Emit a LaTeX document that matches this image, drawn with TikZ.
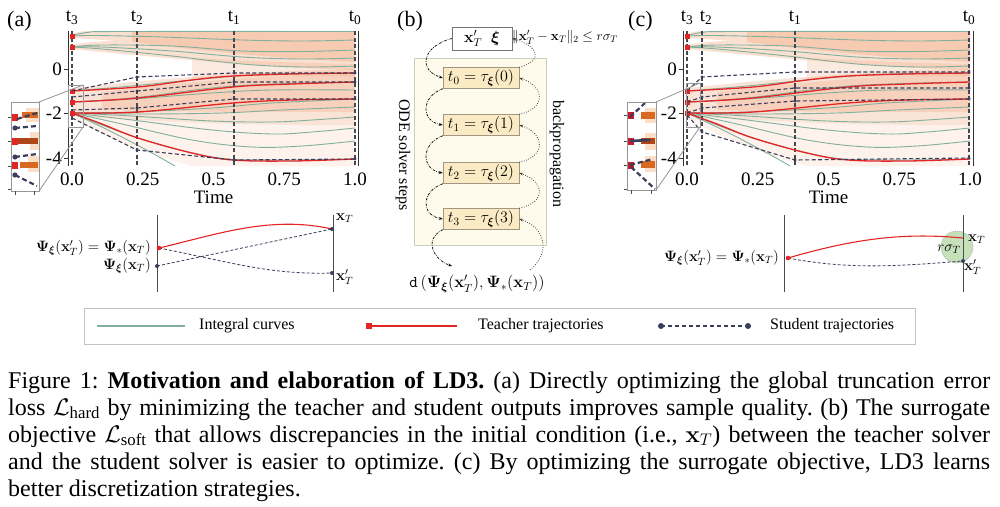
\RequirePackage{fix-cm}
\documentclass[tikz,border=0pt]{standalone}
\usepackage{amsmath}
\usepackage[no-math]{fontspec}
\setmainfont{Liberation Serif}
\newfontfamily\capfont{Liberation Serif}
\usetikzlibrary{arrows.meta,calc}
\frenchspacing

\definecolor{tgreen}{RGB}{128,176,156}
\definecolor{tred}{RGB}{226,38,38}
\definecolor{tnavy}{RGB}{58,62,92}
\definecolor{torange}{RGB}{240,160,115}
\definecolor{vline}{RGB}{70,70,80}
\definecolor{cream}{RGB}{255,251,236}
\definecolor{creamedge}{RGB}{210,204,190}
\definecolor{wheat}{RGB}{251,235,196}
\definecolor{wheatedge}{RGB}{160,150,130}
\definecolor{circgreen}{RGB}{198,224,186}
\definecolor{legedge}{RGB}{195,195,195}
\definecolor{insetedge}{RGB}{150,150,150}
\definecolor{dkorange}{RGB}{215,105,35}
\definecolor{brorange}{RGB}{175,70,25}
\definecolor{ltorange}{RGB}{248,200,160}
\definecolor{crimson}{RGB}{200,25,45}

\tikzset{
  integral/.style={tgreen, line width=0.9pt},
  teacher/.style={tred, line width=1.3pt},
  student/.style={tnavy, line width=1.1pt, dash pattern=on 4pt off 2.5pt},
  tline/.style={vline, line width=1.1pt, dash pattern=on 4pt off 2.5pt},
  spine/.style={black!80, line width=1pt},
  ticklab/.style={font=\fontsize{19}{20}\selectfont, inner sep=0pt},
  panlab/.style={font=\fontsize{22}{24}\selectfont, inner sep=0pt, anchor=west},
  mlab/.style={font=\fontsize{15}{17}\selectfont, inner sep=0pt},
  leglab/.style={font=\fontsize{16}{18}\selectfont, inner sep=0pt, anchor=west},
  capline/.style={anchor=base west, inner sep=0pt, font=\capfont\fontsize{24}{27}\selectfont},
  stepbox/.style={draw=wheatedge, fill=wheat, minimum width=76pt, minimum height=21pt, inner sep=0pt, font=\fontsize{16}{18}\selectfont},
  ddarrow/.style={black, line width=0.7pt, dash pattern=on 2.5pt off 1.2pt on 0.6pt off 1.2pt, -{Stealth[length=4pt,width=3pt]}},
  dotarrow/.style={black!75, line width=0.8pt, dash pattern=on 0.8pt off 1.6pt, -{Stealth[length=4pt,width=3pt]}},
  insetline/.style={insetedge, line width=0.8pt},
}

\newcommand\sharedback{%
  \fill[torange, fill opacity=0.32] (0,34) .. controls (8,31) .. (30,31) -- (283,31) -- (283,70) .. controls (200,68) and (90,58) .. (0,49) -- (0,45) .. controls (15,42) and (30,41) .. (45,41) .. controls (30,40) and (15,38.5) .. (0,38) -- cycle;
  \fill[torange, fill opacity=0.32] (60,31) -- (283,31) -- (283,62) .. controls (200,58) and (120,50) .. (60,42) -- cycle;
  \fill[torange, fill opacity=0.22] (120,58) .. controls (200,62) .. (283,64) -- (283,76) .. controls (200,76) .. (120,80) -- cycle;
  \fill[torange, fill opacity=0.28] (0,88) .. controls (60,82) and (150,72) .. (283,69) -- (283,125) .. controls (200,126) and (80,122) .. (0,116) -- cycle;
  \fill[torange, fill opacity=0.28] (30,92) .. controls (80,86) and (160,76) .. (283,74) -- (283,112) .. controls (200,112) and (100,112) .. (30,110) -- cycle;
  \fill[torange, fill opacity=0.13] (0,116) .. controls (80,122) and (200,126) .. (283,125) -- (283,166) -- (120,166) .. controls (60,150) and (20,130) .. (0,118) -- cycle;
  % integral curves
  \draw[integral] plot[smooth, tension=0.6] coordinates {(0,36) (15,32.5) (50,31.5) (283,31.5)};
  \draw[integral] plot[smooth, tension=0.6] coordinates {(0,36) (25,35.5) (90,37) (170,40) (230,41) (283,40)};
  \draw[integral] plot[smooth, tension=0.6] coordinates {(0,47) (30,45) (100,46) (170,51) (230,51.5) (283,50)};
  \draw[integral] plot[smooth, tension=0.6] coordinates {(0,47) (30,47) (100,51) (170,57) (230,59) (283,58)};
  \draw[integral] plot[smooth, tension=0.6] coordinates {(0,47) (30,49) (100,56) (170,64) (230,67) (283,66)};
  \draw[integral] plot[smooth, tension=0.6] coordinates {(0,91) (60,86) (140,78) (200,74) (283,73)};
  \draw[integral] plot[smooth, tension=0.6] coordinates {(0,102) (60,99) (140,93) (200,90) (283,90)};
  \draw[integral] plot[smooth, tension=0.6] coordinates {(0,102) (60,98) (140,88) (200,84) (283,82)};
  \draw[integral] plot[smooth, tension=0.6] coordinates {(0,113) (60,112) (140,108) (200,103) (283,99)};
  \draw[integral] plot[smooth, tension=0.6] coordinates {(0,113) (70,114) (150,113) (210,110) (283,107)};
  \draw[integral] plot[smooth, tension=0.6] coordinates {(0,113) (60,116) (140,121) (200,122) (240,120) (283,117)};
  \draw[integral] plot[smooth, tension=0.6] coordinates {(0,113) (60,120) (140,130) (200,134) (240,132) (283,128)};
  \draw[integral] plot[smooth, tension=0.6] coordinates {(0,113) (50,124) (120,140) (180,147) (230,146) (283,141)};
  \draw[integral] plot[smooth, tension=0.6] coordinates {(0,113) (40,132) (80,153) (103,166)};
  \draw[integral] plot[smooth, tension=0.6] coordinates {(0,113) (66,138) (140,157) (200,160) (283,159)};
}

\newcommand\sharedfront[1]{%
  \draw[teacher] plot[smooth, tension=0.6] coordinates {(0,91) (66,87) (120,80) (161,76) (220,74) (283,73)};
  \draw[teacher] plot[smooth, tension=0.6] coordinates {(0,102) (66,98) (161,87) (220,84) (283,82)};
  \draw[teacher] plot[smooth, tension=0.6] coordinates {(0,113) (66,112) (161,103) (220,100) (283,99)};
  \draw[teacher] plot[smooth, tension=0.6] coordinates {(0,113) (30,124) (66,138) (120,153) (161,160) (220,161) (283,159)};
  \foreach \yy in {36,47,91,102,113} {\fill[tred] (-2.5,\yy-2.5) rectangle (2.5,\yy+2.5);}
  \draw[spine] (-4,31) -- (-4,166);
  \draw[spine] (286,31) -- (286,166);
  \foreach \yy in {69,113,158} {\draw[spine] (-8,\yy) -- (-4,\yy);}
  \node[ticklab, anchor=east] (#1y0) at (-10,69) {0};
  \node[ticklab, anchor=east] (#1y2) at (-10,113) {-2};
  \node[ticklab, anchor=east] (#1y4) at (-10,158) {-4};
  \node[ticklab] (#1x0) at (0,179) {0.0};
  \node[ticklab] (#1x1) at (70.75,179) {0.25};
  \node[ticklab] (#1x2) at (141.5,179) {0.5};
  \node[ticklab] (#1x3) at (212.25,179) {0.75};
  \node[ticklab] (#1x4) at (283,179) {1.0};
  \node[ticklab] (#1time) at (141.5,197) {Time};
}

\begin{document}
\begin{tikzpicture}[x=1pt,y=-1pt]
\useasboundingbox (0,0) rectangle (1000,506);
\fill[white] (0,0) rectangle (1000,506);

% ================= panel (a) =================
\node[panlab] (laba) at (7,21) {(a)};
\begin{scope}[xshift=72pt]
  \sharedback
  \foreach \xx/\nm in {0/3,65/2,162/1,283/0} {
    \draw[tline] (\xx,31) -- (\xx,166);
    \node[ticklab] (at\nm) at (\xx,18) {t\textsubscript{\nm}};
  }
  \sharedfront{a}
  \draw[student] (0,91) -- (65,77) -- (162,73) -- (283,73);
  \draw[student] (0,97) -- (65,91) -- (162,82) -- (283,82);
  \draw[student] (0,110) -- (65,108) -- (162,99) -- (283,99);
  \draw[student] (0,118) -- (65,150) -- (162,160) -- (283,159);
  \foreach \p in {(65,77),(162,73),(283,73),(65,91),(162,82),(283,82),(65,108),(162,99),(283,99),(65,150),(162,160),(283,159)} {\fill[tnavy] \p circle (1.6);}
\end{scope}
% inset (a)
\draw[insetline] (68,85) rectangle (83,127);
\draw[insetline] (39,102) -- (83,85);
\draw[insetline] (39,191) -- (83,127);
\fill[white] (11,102) rectangle (39,191);
\fill[ltorange, opacity=0.6] (26,108) rectangle (39,122);
\fill[dkorange] (22,112) rectangle (38,118);
\fill[ltorange, opacity=0.6] (30,132) rectangle (39,150);
\fill[brorange] (18,138) rectangle (38,144);
\fill[ltorange, opacity=0.6] (28,156) rectangle (39,172);
\fill[dkorange] (20,162) rectangle (38,168);
\foreach \yy in {117,141,165} {\fill[tred] (10.5,\yy-3.5) rectangle (17.5,\yy+3.5);}
\draw[tnavy, line width=2.2pt, dash pattern=on 5pt off 3pt] (17,119) -- (37,113);
\draw[tnavy, line width=2.2pt, dash pattern=on 5pt off 3pt] (15,128) -- (37,126);
\draw[tnavy, line width=2.2pt, dash pattern=on 5pt off 3pt] (15,157) -- (37,154);
\draw[tnavy, line width=2.2pt, dash pattern=on 5pt off 3pt] (15,175) -- (37,186);
\foreach \p in {(15,128),(15,157),(15,175)} {\fill[tnavy] \p circle (2.6);}
\draw[insetline] (11,102) rectangle (39,191);
\foreach \yy in {117,141,166,189} {\draw[black!70, line width=0.7pt] (8,\yy) -- (11,\yy);}
\foreach \xx in {15,34} {\draw[black!70, line width=0.7pt] (\xx,191) -- (\xx,195);}

% bottom diagram (a)
\draw[black!70, line width=0.9pt] (157,215) -- (157,292);
\draw[black!70, line width=0.9pt] (333,215) -- (333,292);
\coordinate (pa1) at (159,248);
\coordinate (pa2) at (157,266);
\coordinate (qa1) at (332,229);
\coordinate (qa2) at (332,273);
\draw[tred, line width=1.1pt] (pa1) .. controls (215,235) and (270,215) .. (qa1);
\draw[tnavy, line width=0.8pt, dash pattern=on 3pt off 2pt] (pa1) .. controls (230,262) and (270,275) .. (qa2);
\draw[tnavy, line width=0.8pt, dash pattern=on 3pt off 2pt] (pa2) -- (qa1);
\fill[tred] (pa1) circle (2.3);
\fill[tnavy] (pa2) circle (2);
\fill[tnavy] (qa1) circle (2);
\fill[tnavy] (qa2) circle (2);
\node[mlab, anchor=east] (la1) at (151,248) {$\boldsymbol{\Psi}_{\boldsymbol{\xi}}(\mathbf{x}'_T) = \boldsymbol{\Psi}_*(\mathbf{x}_T)$};
\node[mlab, anchor=east] (la2) at (151,266) {$\boldsymbol{\Psi}_{\boldsymbol{\xi}}(\mathbf{x}_T)$};
\node[mlab, anchor=west] (la3) at (336,218) {$\mathbf{x}_T$};
\node[mlab, anchor=west] (la4) at (336,277) {$\mathbf{x}'_T$};

% ================= panel (b) =================
\node[panlab] (labb) at (397,21) {(b)};
\node[draw=creamedge, fill=cream, minimum width=132pt, minimum height=187pt, inner sep=0pt] (bigbox) at (480,151.5) {};
\node[draw=black!55, fill=white, minimum width=60pt, minimum height=23pt, inner sep=0pt, font=\fontsize{16}{18}\selectfont] (xbox) at (482,38.5) {$\mathbf{x}'_T\;\;\boldsymbol{\xi}$};
\node[inner sep=0pt, anchor=west, font=\fontsize{13.5}{15}\selectfont] (norm) at (512,37) {$\|\mathbf{x}'_T-\mathbf{x}_T\|_2\le r\sigma_T$};
\node[stepbox] (b0) at (481,78) {$t_0=\tau_{\boldsymbol{\xi}}(0)$};
\node[stepbox] (b1) at (481,125) {$t_1=\tau_{\boldsymbol{\xi}}(1)$};
\node[stepbox] (b2) at (481,173) {$t_2=\tau_{\boldsymbol{\xi}}(2)$};
\node[stepbox] (b3) at (481,219) {$t_3=\tau_{\boldsymbol{\xi}}(3)$};
\node[rotate=-90, inner sep=0pt, font=\fontsize{16}{18}\selectfont] (ode) at (403,155) {ODE solver steps};
\node[rotate=-90, inner sep=0pt, font=\fontsize{16}{18}\selectfont] (bp) at (557,154) {backpropagation};
\node[inner sep=0pt, font=\fontsize{16.5}{18}\selectfont] (dout) at (477,284) {$\mathtt{d}\left(\boldsymbol{\Psi}_{\boldsymbol{\xi}}(\mathbf{x}'_T),\boldsymbol{\Psi}_*(\mathbf{x}_T)\right)$};
\coordinate (dtip) at (452,266);
\coordinate (dstart) at (530,270);
\draw[ddarrow] (xbox.west) .. controls +(-30,8) and +(-25,-8) .. (b0.west);
\draw[ddarrow] (b0.south west) .. controls +(-22,8) and +(-22,-4) .. (b1.west);
\draw[ddarrow] (b1.south west) .. controls +(-22,8) and +(-22,-4) .. (b2.west);
\draw[ddarrow] (b2.south west) .. controls +(-22,8) and +(-22,-4) .. (b3.west);
\draw[ddarrow] (b3.south west) .. controls +(-20,10) and +(-18,-6) .. (dtip);
\draw[dotarrow] (dstart) .. controls +(22,-18) and +(25,8) .. (b3.east);
\draw[dotarrow] (b3.north east) .. controls +(28,-6) and +(25,8) .. (b2.east);
\draw[dotarrow] (b2.north east) .. controls +(28,-6) and +(25,8) .. (b1.east);
\draw[dotarrow] (b1.north east) .. controls +(28,-6) and +(25,8) .. (b0.east);
\draw[dotarrow] (b0.north east) .. controls +(28,-8) and +(22,6) .. (xbox.east);

% ================= panel (c) =================
\node[panlab] (labc) at (628,21) {(c)};
\begin{scope}[xshift=687pt]
  \sharedback
  \foreach \xx/\nm/\lx in {0/3/0,15/2/19,108/1/108,282/0/282} {
    \draw[tline] (\xx,31) -- (\xx,166);
    \node[ticklab] (ct\nm) at (\lx,18) {t\textsubscript{\nm}};
  }
  \sharedfront{c}
  \draw[student] (0,91) -- (15,77) -- (108,72) -- (282,72);
  \draw[student] (0,102) -- (15,97) -- (108,88) -- (282,88);
  \draw[student] (0,113) -- (15,108) -- (108,101) -- (282,99);
  \draw[student] (0,115) -- (15,132) -- (108,160) -- (282,158);
  \foreach \p in {(15,77),(108,72),(282,72),(15,97),(108,88),(282,88),(15,108),(108,101),(282,99),(15,132),(108,160),(282,158)} {\fill[tnavy] \p circle (1.6);}
\end{scope}
% inset (c)
\draw[insetline] (686,83) rectangle (700,127);
\draw[insetline] (656,102) -- (700,83);
\draw[insetline] (656,190) -- (700,127);
\fill[white] (627,102) rectangle (656,190);
\fill[ltorange, opacity=0.6] (645,108) rectangle (656,123);
\fill[dkorange] (641,112) rectangle (655,119);
\fill[ltorange, opacity=0.6] (645,133) rectangle (656,150);
\fill[brorange] (641,138) rectangle (655,144);
\fill[ltorange, opacity=0.6] (645,156) rectangle (656,172);
\fill[dkorange] (641,161) rectangle (655,168);
\foreach \yy in {115,141,165} {\fill[crimson] (626.5,\yy-3.5) rectangle (633.5,\yy+3.5);}
\draw[tnavy, line width=2.2pt, dash pattern=on 5pt off 3pt] (630,117) -- (645,103);
\draw[tnavy, line width=2.6pt] (630,141) -- (650,140);
\draw[tnavy, line width=2.2pt, dash pattern=on 5pt off 3pt] (630,165) -- (653,159);
\draw[tnavy, line width=2.2pt, dash pattern=on 5pt off 3pt] (631,167) -- (655,189);
\draw[insetline] (627,102) rectangle (656,190);
\foreach \yy in {115,141,165,189} {\draw[black!70, line width=0.7pt] (624,\yy) -- (627,\yy);}
\foreach \xx in {631,651} {\draw[black!70, line width=0.7pt] (\xx,190) -- (\xx,194);}

% bottom diagram (c)
\node[circle, draw=black!45, dash pattern=on 1pt off 1pt, fill=circgreen, minimum size=32pt, inner sep=0pt] (ball) at (957,247) {};
\draw[black!70, line width=0.9pt] (784,215) -- (784,292);
\draw[black!70, line width=0.9pt] (963,215) -- (963,292);
\coordinate (pc1) at (788,258);
\coordinate (qc1) at (963,238);
\coordinate (qc2) at (963,261);
\draw[tred, line width=1.1pt] (pc1) .. controls (850,240) and (900,232) .. (qc1);
\draw[tnavy, line width=0.8pt, dash pattern=on 3pt off 2pt] (pc1) .. controls (850,270) and (900,266) .. (qc2);
\fill[tred] (pc1) circle (2.3);
\fill[tnavy] (qc2) circle (2);
\node[mlab, anchor=east] (lc1) at (779,258) {$\boldsymbol{\Psi}_{\boldsymbol{\xi}}(\mathbf{x}'_T) = \boldsymbol{\Psi}_*(\mathbf{x}_T)$};
\node[mlab, anchor=west] (lc2) at (968,239) {$\mathbf{x}_T$};
\node[mlab] (lc3) at (949,249) {$r\sigma_T$};
\node[mlab, anchor=west] (lc4) at (964,267) {$\mathbf{x}'_T$};

% ================= legend =================
\node[draw=legedge, line width=1pt, minimum width=831pt, minimum height=36pt, inner sep=0pt] (legend) at (499.5,326) {};
\draw[tgreen, line width=1.2pt] (97,326) -- (185,326);
\node[leglab] (lg1) at (199,326) {Integral curves};
\draw[tred, line width=1.3pt] (369,326) -- (457,326);
\fill[tred] (366,323) rectangle (372,329);
\node[leglab] (lg2) at (478,326) {Teacher trajectories};
\draw[tnavy, line width=1.2pt, dash pattern=on 4pt off 3pt] (661,326) -- (748,326);
\fill[tnavy] (661,326) circle (3);
\fill[tnavy] (748,326) circle (3);
\node[leglab] (lg3) at (770,326) {Student trajectories};

% ================= caption =================
\node[capline] (cap1) at (8,388) {\makebox[982pt][s]{Figure 1: \textbf{Motivation and elaboration of LD3.} (a) Directly optimizing the global truncation error}};
\node[capline] (cap2) at (8,415) {\makebox[982pt][s]{loss $\mathcal{L}_{\text{hard}}$ by minimizing the teacher and student outputs improves sample quality. (b) The surrogate}};
\node[capline] (cap3) at (8,442) {\makebox[982pt][s]{objective $\mathcal{L}_{\text{soft}}$ that allows discrepancies in the initial condition (i.e., $\mathbf{x}_T$) between the teacher solver}};
\node[capline] (cap4) at (8,469) {\makebox[982pt][s]{and the student solver is easier to optimize. (c) By optimizing the surrogate objective, LD3 learns}};
\node[capline] (cap5) at (8,496) {better discretization strategies.};
\end{tikzpicture}
\end{document}
